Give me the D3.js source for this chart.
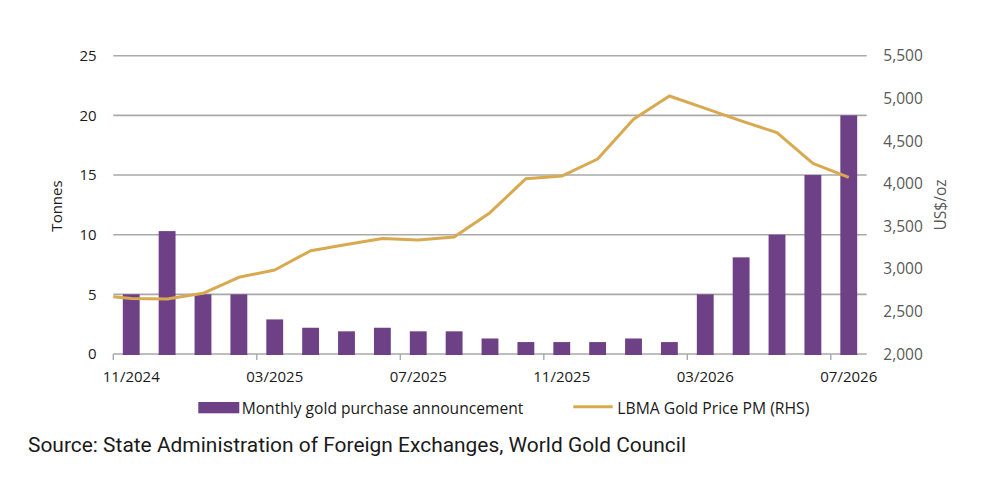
<!DOCTYPE html>
<html>
<head>
<meta charset="utf-8">
<script src="https://cdn.jsdelivr.net/npm/d3@7"></script>
<style>
  html, body { margin: 0; padding: 0; background: #ffffff; }
  svg { display: block; }
</style>
</head>
<body>
<svg id="chart" width="983" height="489"></svg>
<script>
// ---- Data ----
const months = ["11/2024","12/2024","01/2025","02/2025","03/2025","04/2025","05/2025","06/2025","07/2025","08/2025","09/2025","10/2025","11/2025","12/2025","01/2026","02/2026","03/2026","04/2026","05/2026","06/2026","07/2026"];
const purchases = [5, 10.3, 5, 5, 2.9, 2.2, 1.9, 2.2, 1.9, 1.9, 1.3, 1, 1, 1, 1.3, 1, 5, 8.1, 10, 15, 20];
const goldPrice = [2650, 2645, 2712, 2900, 2986, 3212, 3285, 3355, 3338, 3372, 3658, 4057, 4088, 4288, 4753, 5027, 4882, 4736, 4597, 4237, 4073];
const goldPriceStart = 2672; // value where the line meets the left edge of the plot
const leftTicks = [0, 5, 10, 15, 20, 25];
const rightTicks = [2000, 2500, 3000, 3500, 4000, 4500, 5000, 5500];
const xLabelMonths = ["11/2024","03/2025","07/2025","11/2025","03/2026","07/2026"];
const seriesNames = ["Monthly gold purchase announcement", "LBMA Gold Price PM (RHS)"];
const sourceText = "Source: State Administration of Foreign Exchanges, World Gold Council";

// ---- Styles ----
const PURPLE = "#6e4187";
const GOLD = "#d8a94f";
const GRID = "#a9a9a9";
const DARK = "#1a1a1a";
const GREY = "#595959";
const FONT = "'Open Sans', sans-serif";

const svg = d3.select("#chart");
const plot = { left: 113.3, right: 866.7, top: 55.7, bottom: 354 };

const x = d3.scaleBand().domain(months).range([plot.left, plot.right])
  .paddingInner(0.53).paddingOuter(0.265);
const yL = d3.scaleLinear().domain([0, 25]).range([plot.bottom, plot.top]);
const yR = d3.scaleLinear().domain([2000, 5500]).range([plot.bottom, plot.top]);
const stepGap = (x.step() - x.bandwidth()) / 2;
const cx = m => x(m) + x.bandwidth() / 2;

// Gridlines
svg.append("g").selectAll("line").data(leftTicks).join("line")
  .attr("x1", plot.left).attr("x2", plot.right)
  .attr("y1", d => yL(d)).attr("y2", d => yL(d))
  .attr("stroke", GRID).attr("stroke-width", 1.6);

// Bars
svg.append("g").selectAll("rect").data(months).join("rect")
  .attr("x", d => x(d))
  .attr("width", x.bandwidth())
  .attr("y", (d, i) => yL(purchases[i]))
  .attr("height", (d, i) => yL(0) - yL(purchases[i]) + 1)
  .attr("fill", PURPLE);

// Baseline tick marks at band edges
svg.append("g").selectAll("line").data(xLabelMonths).join("line")
  .attr("x1", d => x(d) - stepGap).attr("x2", d => x(d) - stepGap)
  .attr("y1", plot.bottom).attr("y2", plot.bottom + 6)
  .attr("stroke", GRID).attr("stroke-width", 1.4);

// Line
const linePts = [[x.range()[0], goldPriceStart]].concat(months.map((m, i) => [cx(m), goldPrice[i]]));
svg.append("path").datum(linePts)
  .attr("fill", "none").attr("stroke", GOLD).attr("stroke-width", 3)
  .attr("stroke-linejoin", "round")
  .attr("d", d3.line().x(d => d[0]).y(d => yR(d[1])));

// Left axis labels
svg.append("g").selectAll("text").data(leftTicks).join("text")
  .attr("x", 96.7).attr("y", d => yL(d)).attr("dy", "0.36em")
  .attr("text-anchor", "end").attr("font-family", FONT).attr("font-size", 15)
  .attr("fill", DARK).text(d => d);

// Right axis labels
const fmt = d3.format(",");
svg.append("g").selectAll("text").data(rightTicks).join("text")
  .attr("x", 883.3).attr("y", d => yR(d)).attr("dy", "0.36em")
  .attr("text-anchor", "start").attr("font-family", FONT).attr("font-size", 15.5)
  .attr("fill", GREY).text(d => fmt(d));

// X labels
svg.append("g").selectAll("text").data(xLabelMonths).join("text")
  .attr("x", d => cx(d)).attr("y", 382)
  .attr("text-anchor", "middle").attr("font-family", FONT).attr("font-size", 15)
  .attr("fill", DARK).text(d => d);

// Axis titles
svg.append("text").attr("transform", "translate(62,206) rotate(-90)")
  .attr("text-anchor", "middle").attr("font-family", FONT).attr("font-size", 15)
  .attr("fill", DARK).text("Tonnes");
svg.append("text").attr("transform", "translate(946,205) rotate(-90)")
  .attr("text-anchor", "middle").attr("font-family", FONT).attr("font-size", 15.5)
  .attr("fill", GREY).text("US$/oz");

// Legend
const lg = svg.append("g");
lg.append("rect").attr("x", 198.3).attr("y", 402).attr("width", 41).attr("height", 11.3).attr("fill", PURPLE);
lg.append("text").attr("x", 241.7).attr("y", 413.5)
  .attr("font-family", FONT).attr("font-size", 15.5).attr("fill", DARK)
  .attr("textLength", 281.6).attr("lengthAdjust", "spacingAndGlyphs")
  .text(seriesNames[0]);
lg.append("line").attr("x1", 573.3).attr("x2", 612.7).attr("y1", 406.7).attr("y2", 406.7)
  .attr("stroke", GOLD).attr("stroke-width", 3);
lg.append("text").attr("x", 617.3).attr("y", 413.5)
  .attr("font-family", FONT).attr("font-size", 15.5).attr("fill", DARK)
  .attr("textLength", 192).attr("lengthAdjust", "spacingAndGlyphs")
  .text(seriesNames[1]);

// Source
svg.append("text").attr("x", 28).attr("y", 451.7)
  .attr("font-family", "Roboto, sans-serif").attr("font-size", 20.5).attr("fill", DARK)
  .attr("textLength", 658).attr("lengthAdjust", "spacingAndGlyphs")
  .text(sourceText);
</script>
</body>
</html>
